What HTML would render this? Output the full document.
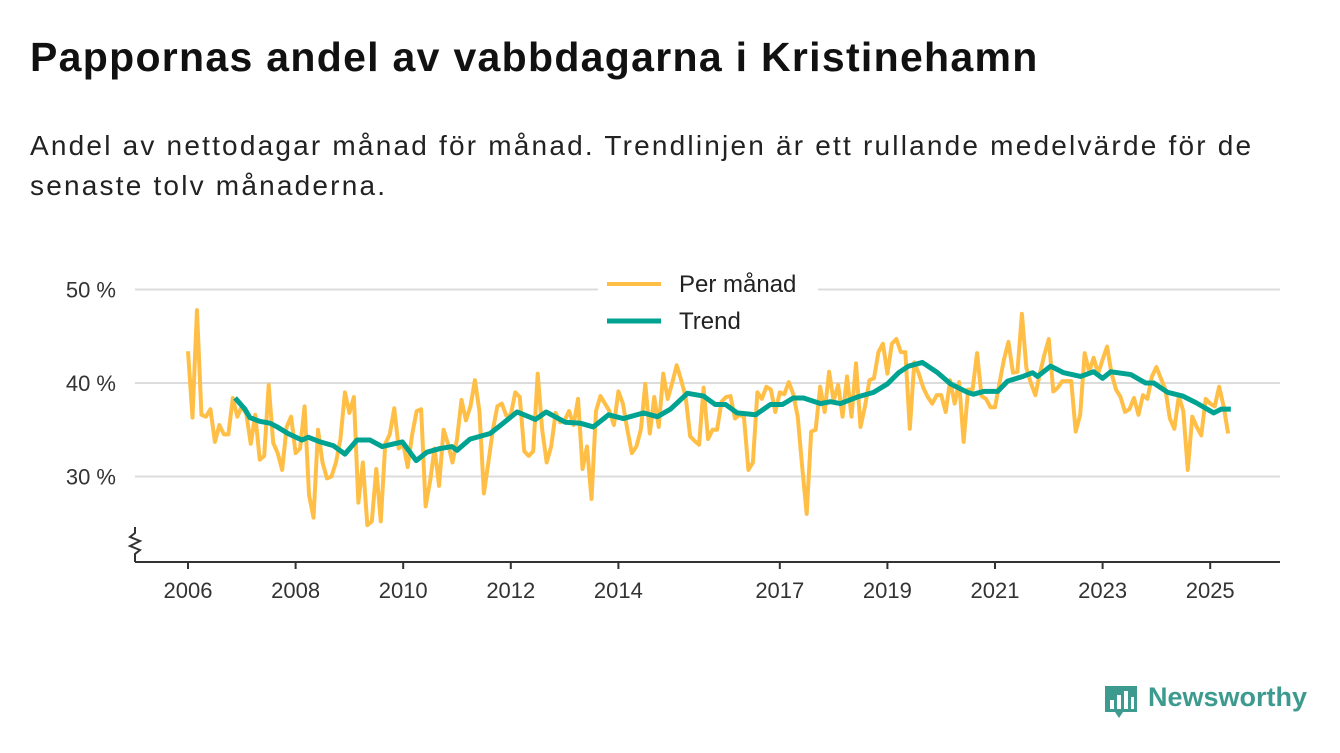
<!DOCTYPE html>
<html><head><meta charset="utf-8"><style>
body{margin:0;width:1340px;height:753px;background:#fff;font-family:"Liberation Sans",sans-serif;overflow:hidden;position:relative}
#title{position:absolute;left:30px;top:34px;font-size:41px;letter-spacing:1.3px;font-weight:bold;color:#111;margin:0}
#sub{position:absolute;left:30px;top:126px;font-size:28px;letter-spacing:2.2px;line-height:40px;color:#222;width:1300px;white-space:nowrap}
#logo{position:absolute;left:1103px;top:684px}
#logotext{position:absolute;left:1148px;top:682px;font-size:27px;font-weight:bold;color:#3d9a8e}
</style></head><body>
<h1 id="title">Pappornas andel av vabbdagarna i Kristinehamn</h1>
<div id="sub">Andel av nettodagar månad för månad. Trendlinjen är ett rullande medelvärde för de<br>senaste tolv månaderna.</div>
<svg id="chart" width="1340" height="753" style="position:absolute;left:0;top:0"></svg>
<svg id="logo" width="36" height="38"><path d="M2 2h32v26H20l-4 6-4-6H2z" fill="#3d9a8e"/><rect x="7" y="16" width="4" height="9" fill="#fff"/><rect x="14" y="11" width="4" height="14" fill="#fff"/><rect x="21" y="7" width="4" height="18" fill="#fff"/><rect x="28" y="13" width="3" height="12" fill="#fff"/></svg>
<div id="logotext">Newsworthy</div>
<script>
const monthly=[
43.4,36.3,47.8,36.6,36.4,37.2,33.7,35.5,34.5,34.5,38.4,36.4,
37.5,36.7,33.5,36.6,31.8,32.2,39.8,33.6,32.5,30.7,35.3,36.4,
32.5,33,37.5,28,25.6,35,31.5,29.8,30,31.5,34,39,
36.8,38.5,27.2,31.5,24.8,25.2,30.8,25.2,33.5,34.5,37.3,33,
33.5,31,34.5,37,37.2,26.8,29.5,33,29,35,33.5,31.5,
34,38.2,36,37.5,40.3,37,28.2,31.5,35,37.5,37.8,36.5,
36.6,39,38.5,32.7,32.2,32.7,41,35,31.5,33.2,36.8,35.8,
36,37,35.5,38.3,30.8,33.2,27.6,37,38.6,37.8,37,35.5,
39.1,37.8,35,32.5,33.2,35,39.9,34.6,38.5,35.3,41,38.3,
40,41.9,40.3,38.5,34.3,33.8,33.4,39.5,34,35,35,38,
38.5,38.6,36.2,36.6,36.4,30.7,31.5,39,38.3,39.6,39.3,36.9,
39,38.8,40.1,38.8,36.4,31,26,34.8,35,39.6,36.9,41.2,
38.1,39.8,36.4,40.7,36.4,42.1,35.3,37.5,40.3,40.5,43.3,44.2,
41,44.2,44.7,43.3,43.3,35.1,42.2,41,39.5,38.5,37.8,38.7,
38.7,36.9,40.3,37.8,40.1,33.7,39.3,39.3,43.2,38.6,38.3,37.4,
37.4,40,42.5,44.4,41.1,41.2,47.4,41.6,40,38.7,41,43,
44.7,39.1,39.5,40.2,40.2,40.2,34.8,36.6,43.2,41.2,42.7,41,
42.5,43.9,41,39.3,38.5,36.9,37.2,38.4,36.6,38.7,38.3,40.7,
41.7,40.5,39.3,36.2,35.1,38.6,37,30.7,36.4,35.3,34.4,38.3,
37.8,37.5,39.6,37.5,34.6];
const trendMonth=[10.5,12.7,13.8,16,18.3,19.9,22.3,25.4,26.8,29.5,32.4,35,37.7,40.6,43.3,47.8,50.9,53.3,56.3,58.9,60,62.9,67.4,70.3,73.4,77.5,79.9,84.2,87.5,90.4,93.8,97.1,101.6,104.7,107.6,111.4,115,117.6,119.9,122.5,126.6,129.9,132.6,135,137.3,141.1,143.3,145.5,149.3,152.9,156,158.5,160.7,163.8,167.2,170.1,173.9,175.2,177.5,180.6,182.8,186.2,188.4,189.5,192.4,195.3,199.1,202,204,205.8,210.3,213.6,215.4,218.5,221.9,224.8,228.8,230.4,232.6];
const trendValue=[38.4,37.2,36.3,35.9,35.7,35.3,34.6,33.9,34.2,33.7,33.3,32.4,33.9,33.9,33.2,33.7,31.7,32.6,33,33.2,32.8,34,34.6,35.7,36.9,36.1,36.9,35.8,35.7,35.3,36.6,36.2,36.8,36.4,37.2,38.9,38.6,37.7,37.7,36.8,36.6,37.7,37.7,38.4,38.4,37.8,38,37.8,38.5,39,39.9,41.1,41.8,42.2,41.1,39.9,39,38.8,39.1,39.1,40.2,40.7,41.1,40.7,41.8,41.1,40.7,41.2,40.5,41.2,40.9,40,40,39,38.6,37.9,36.8,37.2,37.2];
const yTicks=[30,40,50];
const yTickLabels=["30 %","40 %","50 %"];
const xTickYears=[2006,2008,2010,2012,2014,2017,2019,2021,2023,2025];
const NS="http://www.w3.org/2000/svg";
const svg=document.getElementById('chart');
const X0=188,PXM=53.8/12;
function xs(m){return X0+m*PXM;}
function xy(yr){return X0+(yr-2006)*53.8;}
function ys(v){return 383-(v-40)*9.35;}
function el(t,a,p){const e=document.createElementNS(NS,t);for(const k in a)e.setAttribute(k,a[k]);(p||svg).appendChild(e);return e;}
yTicks.forEach((t,i)=>{
 const g=el('line',{x1:135,x2:1280,y1:ys(t),y2:ys(t),stroke:'#dcdcdc','stroke-width':2});
 
 
 const tx=el('text',{x:116,y:ys(t)+8,'text-anchor':'end','font-size':22,fill:'#333','font-family':'Liberation Sans, sans-serif'});
 tx.textContent=yTickLabels[i];
 
 
});
const ax=el('line',{x1:135,x2:1280,y1:562,y2:562,stroke:'#333','stroke-width':2});


const br=el('path',{d:'M135 527 L135 533 L130 537 L140 541 L130 546 L140 550 L135 554 L135 562',fill:'none',stroke:'#333','stroke-width':2});


xTickYears.forEach(yr=>{
 const x=xy(yr);
 const t=el('line',{x1:x,x2:x,y1:562,y2:569,stroke:'#333','stroke-width':2});
 
 
 const tx=el('text',{x:x,y:598,'text-anchor':'middle','font-size':22,fill:'#333','font-family':'Liberation Sans, sans-serif'});
 tx.textContent=yr;
 
 
});
const pm=el('polyline',{points:monthly.map((v,i)=>xs(i)+','+ys(v)).join(' '),fill:'none',stroke:'#ffbf47','stroke-width':4,'stroke-linejoin':'round'});


const tl=el('polyline',{points:trendValue.map((v,i)=>xs(trendMonth[i])+','+ys(v)).join(' '),fill:'none',stroke:'#00a391','stroke-width':5,'stroke-linejoin':'round'});


const lb=el('rect',{x:598,y:266,width:220,height:74,fill:'#fff'});


[['Per månad','#ffbf47',284,4],['Trend','#00a391',321,5]].forEach(([t,c,y,w])=>{
 const l=el('line',{x1:607,x2:661,y1:y,y2:y,stroke:c,'stroke-width':w});
 
 
 const tx=el('text',{x:679,y:y+8,'font-size':24,fill:'#222','font-family':'Liberation Sans, sans-serif'});
 tx.textContent=t;
 
 
});
</script>
</body></html>
